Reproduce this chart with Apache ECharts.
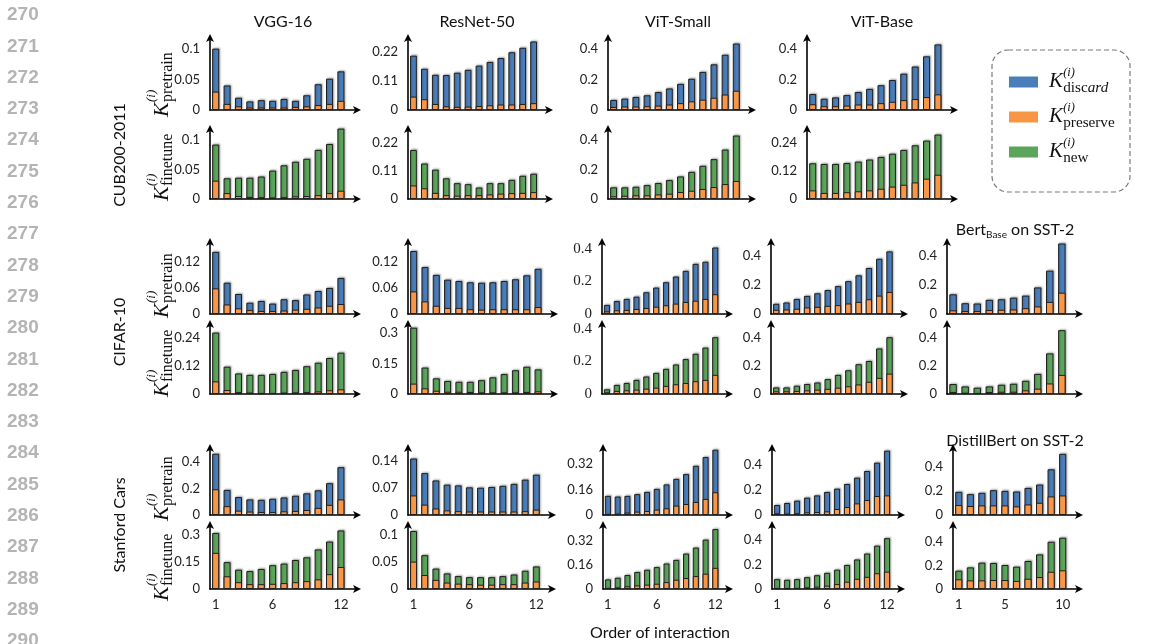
<!DOCTYPE html>
<html><head><meta charset="utf-8">
<script src="https://cdn.jsdelivr.net/npm/echarts@6/dist/echarts.min.js"></script>
<style>html,body{margin:0;padding:0;background:#fff}#c{width:1150px;height:644px}</style>
</head><body><div id="c"></div>
<script>
// ---------- tick labels / categories ----------
const xLabels12 = ['1','2','3','4','5','6','7','8','9','10','11','12',''];
const xLabels10 = ['1','2','3','4','5','6','7','8','9','10',''];
const xShown12 = ['1','6','12'];
const xShown10 = ['1','5','10'];
const colTitles = ['VGG-16','ResNet-50','ViT-Small','ViT-Base'];
const datasetNames = ['CUB200-2011','CIFAR-10','Stanford Cars'];
const lineNumbers = ['270','271','272','273','274','275','276','277','278','279','280','281','282','283','284','285','286','287','288','289','290'];

const ticks_r1 = [[0,0.05,0.1],[0,0.11,0.22],[0,0.2,0.4],[0,0.2,0.4]];
const ticks_r2 = [[0,0.05,0.1],[0,0.11,0.22],[0,0.2,0.4],[0,0.12,0.24]];
const ticks_r3 = [[0,0.06,0.12],[0,0.06,0.12],[0,0.2,0.4],[0,0.2,0.4],[0,0.2,0.4]];
const ticks_r4 = [[0,0.12,0.24],[0,0.15,0.3],[0,0.2,0.4],[0,0.2,0.4],[0,0.2,0.4]];
const ticks_r5 = [[0,0.2,0.4],[0,0.07,0.14],[0,0.16,0.32],[0,0.2,0.4],[0,0.2,0.4]];
const ticks_r6 = [[0,0.15,0.3],[0,0.05,0.1],[0,0.16,0.32],[0,0.2,0.4],[0,0.2,0.4]];

// ---------- data: total bar height (K_discard or K_new stacked on K_preserve) and K_preserve ----------
// CUB200-2011
const cub_vgg_pre_total = [0.100,0.040,0.020,0.014,0.016,0.015,0.018,0.015,0.024,0.042,0.051,0.063];
const cub_vgg_pre_keep  = [0.030,0.010,0.006,0.004,0.004,0.004,0.004,0.005,0.006,0.008,0.010,0.015];
const cub_vgg_ft_total  = [0.092,0.035,0.036,0.036,0.038,0.048,0.057,0.063,0.068,0.083,0.093,0.119];
const cub_vgg_ft_keep   = [0.031,0.010,0.005,0.0035,0.003,0.0025,0.003,0.0045,0.005,0.0065,0.010,0.014];
const cub_res_pre_total = [0.207,0.157,0.134,0.133,0.142,0.153,0.169,0.183,0.198,0.220,0.237,0.261];
const cub_res_pre_keep  = [0.051,0.041,0.023,0.014,0.012,0.013,0.015,0.018,0.021,0.021,0.023,0.026];
const cub_res_ft_total  = [0.192,0.139,0.115,0.081,0.062,0.058,0.045,0.062,0.062,0.075,0.091,0.099];
const cub_res_ft_keep   = [0.053,0.042,0.024,0.015,0.013,0.015,0.015,0.018,0.021,0.023,0.024,0.027];
const cub_vits_pre_total= [0.066,0.075,0.086,0.097,0.118,0.142,0.172,0.206,0.251,0.301,0.364,0.438];
const cub_vits_pre_keep = [0.020,0.023,0.023,0.025,0.029,0.036,0.045,0.057,0.068,0.081,0.102,0.127];
const cub_vits_ft_total = [0.079,0.079,0.083,0.094,0.108,0.128,0.153,0.184,0.225,0.270,0.335,0.430];
const cub_vits_ft_keep  = [0.018,0.022,0.025,0.025,0.031,0.036,0.047,0.056,0.068,0.081,0.101,0.122];
const cub_vitb_pre_total= [0.105,0.074,0.083,0.098,0.118,0.139,0.163,0.197,0.239,0.286,0.353,0.431];
const cub_vitb_pre_keep = [0.038,0.025,0.025,0.029,0.036,0.036,0.045,0.054,0.065,0.072,0.085,0.103];
const cub_vitb_ft_total = [0.153,0.150,0.150,0.154,0.160,0.169,0.180,0.194,0.210,0.230,0.250,0.276];
const cub_vitb_ft_keep  = [0.037,0.026,0.026,0.029,0.033,0.037,0.044,0.053,0.061,0.071,0.087,0.104];
// CIFAR-10
const cifar_vgg_pre_total = [0.143,0.072,0.046,0.026,0.030,0.024,0.034,0.032,0.045,0.053,0.060,0.083];
const cifar_vgg_pre_keep  = [0.059,0.022,0.013,0.009,0.007,0.007,0.008,0.010,0.012,0.015,0.019,0.023];
const cifar_vgg_ft_total  = [0.263,0.117,0.088,0.082,0.082,0.086,0.095,0.103,0.119,0.134,0.154,0.177];
const cifar_vgg_ft_keep   = [0.054,0.017,0.008,0.006,0.004,0.004,0.006,0.007,0.008,0.011,0.016,0.020];
const cifar_res_pre_total = [0.145,0.108,0.090,0.079,0.076,0.073,0.072,0.073,0.076,0.080,0.089,0.104];
const cifar_res_pre_keep  = [0.052,0.029,0.019,0.014,0.014,0.011,0.010,0.011,0.011,0.011,0.011,0.016];
const cifar_res_ft_total  = [0.326,0.130,0.077,0.064,0.060,0.060,0.068,0.082,0.098,0.117,0.134,0.121];
const cifar_res_ft_keep   = [0.051,0.028,0.016,0.011,0.011,0.010,0.008,0.008,0.008,0.008,0.010,0.013];
const cifar_vits_pre_total= [0.056,0.080,0.093,0.107,0.134,0.163,0.196,0.231,0.266,0.309,0.322,0.410];
const cifar_vits_pre_keep = [0.016,0.023,0.025,0.031,0.037,0.045,0.054,0.064,0.074,0.082,0.093,0.122];
const cifar_vits_ft_total = [0.029,0.056,0.068,0.087,0.108,0.130,0.155,0.182,0.215,0.248,0.286,0.350];
const cifar_vits_ft_keep  = [0.010,0.019,0.023,0.027,0.033,0.039,0.050,0.060,0.068,0.079,0.087,0.118];
const cifar_vitb_pre_total= [0.070,0.079,0.103,0.124,0.142,0.164,0.191,0.225,0.265,0.315,0.378,0.429];
const cifar_vitb_pre_keep = [0.029,0.031,0.036,0.045,0.049,0.056,0.061,0.072,0.083,0.101,0.126,0.151];
const cifar_vitb_ft_total = [0.047,0.047,0.059,0.071,0.082,0.106,0.136,0.169,0.212,0.235,0.324,0.404];
const cifar_vitb_ft_keep  = [0.019,0.019,0.022,0.026,0.031,0.037,0.045,0.055,0.068,0.087,0.115,0.145];
const cifar_bert_pre_total= [0.135,0.074,0.072,0.097,0.101,0.112,0.126,0.182,0.297,0.483];
const cifar_bert_pre_keep = [0.025,0.020,0.020,0.027,0.029,0.031,0.040,0.052,0.083,0.146];
const cifar_bert_ft_total = [0.071,0.054,0.045,0.054,0.066,0.073,0.094,0.143,0.289,0.454];
const cifar_bert_ft_keep  = [0.014,0.009,0.007,0.014,0.016,0.016,0.026,0.038,0.075,0.136];
// Stanford Cars
const cars_vgg_pre_total = [0.464,0.190,0.136,0.118,0.115,0.123,0.133,0.146,0.164,0.187,0.241,0.362];
const cars_vgg_pre_keep  = [0.195,0.067,0.033,0.026,0.023,0.023,0.028,0.031,0.038,0.054,0.077,0.118];
const cars_vgg_ft_total  = [0.313,0.150,0.108,0.100,0.112,0.133,0.142,0.162,0.177,0.221,0.265,0.327];
const cars_vgg_ft_keep   = [0.202,0.071,0.038,0.027,0.027,0.029,0.033,0.038,0.044,0.054,0.083,0.123];
const cars_res_pre_total = [0.147,0.109,0.090,0.079,0.077,0.072,0.071,0.073,0.076,0.081,0.092,0.105];
const cars_res_pre_keep  = [0.051,0.027,0.017,0.012,0.010,0.009,0.009,0.009,0.009,0.009,0.010,0.014];
const cars_res_ft_total  = [0.108,0.063,0.038,0.029,0.024,0.022,0.022,0.022,0.024,0.027,0.034,0.042];
const cars_res_ft_keep   = [0.051,0.026,0.017,0.012,0.010,0.009,0.008,0.008,0.009,0.009,0.012,0.014];
const cars_vits_pre_total= [0.120,0.116,0.120,0.131,0.145,0.164,0.192,0.227,0.257,0.309,0.364,0.410];
const cars_vits_pre_keep = [0.004,0.008,0.015,0.021,0.025,0.034,0.042,0.059,0.069,0.082,0.101,0.143];
const cars_vits_ft_total = [0.064,0.075,0.093,0.113,0.128,0.146,0.170,0.194,0.236,0.276,0.329,0.399];
const cars_vits_ft_keep  = [0.007,0.011,0.018,0.024,0.029,0.035,0.046,0.062,0.073,0.086,0.102,0.141];
const cars_vitb_pre_total= [0.080,0.096,0.115,0.139,0.157,0.184,0.211,0.248,0.299,0.352,0.419,0.515];
const cars_vitb_pre_keep = [0.013,0.011,0.013,0.021,0.024,0.029,0.048,0.064,0.093,0.120,0.152,0.157];
const cars_vitb_ft_total = [0.080,0.075,0.080,0.096,0.112,0.131,0.157,0.195,0.240,0.288,0.352,0.413];
const cars_vitb_ft_keep  = [0.008,0.005,0.008,0.013,0.019,0.027,0.040,0.059,0.083,0.099,0.128,0.141];
const cars_dbert_pre_total=[0.193,0.174,0.185,0.207,0.201,0.196,0.226,0.254,0.381,0.510];
const cars_dbert_pre_keep =[0.083,0.075,0.080,0.080,0.080,0.072,0.088,0.102,0.155,0.163];
const cars_dbert_ft_total =[0.155,0.183,0.223,0.220,0.203,0.189,0.237,0.293,0.400,0.434];
const cars_dbert_ft_keep  =[0.082,0.073,0.073,0.076,0.076,0.068,0.087,0.101,0.146,0.158];

// ---------- panel list (data references) ----------
const panelData = [
  [[cub_vgg_pre_total,cub_vgg_pre_keep],[cub_res_pre_total,cub_res_pre_keep],[cub_vits_pre_total,cub_vits_pre_keep],[cub_vitb_pre_total,cub_vitb_pre_keep]],
  [[cub_vgg_ft_total,cub_vgg_ft_keep],[cub_res_ft_total,cub_res_ft_keep],[cub_vits_ft_total,cub_vits_ft_keep],[cub_vitb_ft_total,cub_vitb_ft_keep]],
  [[cifar_vgg_pre_total,cifar_vgg_pre_keep],[cifar_res_pre_total,cifar_res_pre_keep],[cifar_vits_pre_total,cifar_vits_pre_keep],[cifar_vitb_pre_total,cifar_vitb_pre_keep],[cifar_bert_pre_total,cifar_bert_pre_keep]],
  [[cifar_vgg_ft_total,cifar_vgg_ft_keep],[cifar_res_ft_total,cifar_res_ft_keep],[cifar_vits_ft_total,cifar_vits_ft_keep],[cifar_vitb_ft_total,cifar_vitb_ft_keep],[cifar_bert_ft_total,cifar_bert_ft_keep]],
  [[cars_vgg_pre_total,cars_vgg_pre_keep],[cars_res_pre_total,cars_res_pre_keep],[cars_vits_pre_total,cars_vits_pre_keep],[cars_vitb_pre_total,cars_vitb_pre_keep],[cars_dbert_pre_total,cars_dbert_pre_keep]],
  [[cars_vgg_ft_total,cars_vgg_ft_keep],[cars_res_ft_total,cars_res_ft_keep],[cars_vits_ft_total,cars_vits_ft_keep],[cars_vitb_ft_total,cars_vitb_ft_keep],[cars_dbert_ft_total,cars_dbert_ft_keep]]
];
const panelTicks = [ticks_r1,ticks_r2,ticks_r3,ticks_r4,ticks_r5,ticks_r6];
const rowKind = ['pretrain','finetune','pretrain','finetune','pretrain','finetune'];

// ---------- layout / scale (positions, not data) ----------
const rowTop  = [37,128,241,323,447,524];
const rowBase = [110,199,314,394,515,589];
const colSpans = [
  [[210,358],[408,550],[608,753],[807,955]],
  [[210,358],[408,555],[602,730],[771,905],[947,1080]],
  [[210,358],[408,553],[603,730],[772,902],[953,1080]]
];
const yMaxes = [
  [0.119,0.278,0.481,0.48],
  [0.12,0.278,0.481,0.304],
  [0.168,0.168,0.45,0.50,0.50],
  [0.304,0.349,0.4375,0.505,0.505],
  [0.515,0.177,0.427,0.544,0.567],
  [0.363,0.121,0.433,0.528,0.55]
];
const C_DISCARD = '#4a7ebb', C_PRESERVE = '#f79646', C_NEW = '#5ba65a';
const SANS = 'Lato, "Open Sans", sans-serif';
const SERIF = '"Liberation Serif", "DejaVu Serif", serif';

const grids=[], xAxes=[], yAxes=[], series=[];
let gi = 0;
panelData.forEach((row, r) => {
  const spans = colSpans[r < 2 ? 0 : (r < 4 ? 1 : 2)];
  row.forEach((pd, c) => {
    const [x0, x1] = spans[c];
    const is10 = pd[0].length === 10;
    const ticks = panelTicks[r][c];
    grids.push({left:x0, top:rowTop[r], width:x1-x0, height:rowBase[r]-rowTop[r], containLabel:false});
    const axisLine = {show:true, symbol:['none','arrow'], symbolSize:[6,8], symbolOffset:[0,3],
                      lineStyle:{color:'#000', width:1.6}};
    const shown = is10 ? xShown10 : xShown12;
    xAxes.push({type:'category', gridIndex:gi, data: is10 ? xLabels10 : xLabels12,
      axisLine, axisTick:{show:false},
      axisLabel:{show: r === 5, interval:(i, v) => shown.includes(v), fontSize:13, margin:9,
                 color:'#222', fontFamily:SANS}});
    const serifTicks = (r === 2 || r === 3) && c === 2;
    yAxes.push({type:'value', gridIndex:gi, min:0, max:yMaxes[r][c],
      splitLine:{show:false}, axisLine, axisTick:{show:false},
      axisLabel:{customValues:ticks, fontSize: serifTicks ? 15 : 13, margin:10, color:'#222',
                 fontFamily: serifTicks ? SERIF : SANS,
                 formatter:(v) => ticks.some(t => Math.abs(t - v) < 1e-9) ? String(v) : ''}});
    const topColor = rowKind[r] === 'pretrain' ? C_DISCARD : C_NEW;
    series.push({type:'bar', xAxisIndex:gi, yAxisIndex:gi, data:pd[0], barWidth:'62%', barGap:'-100%',
      silent:true, itemStyle:{color:topColor, borderColor:'#1e1e1e', borderWidth:1,
        shadowColor:'rgba(0,0,0,0.28)', shadowBlur:2, shadowOffsetX:1, shadowOffsetY:-1}});
    series.push({type:'bar', xAxisIndex:gi, yAxisIndex:gi, data:pd[1], barWidth:'62%', barGap:'-100%',
      silent:true, itemStyle:{color:C_PRESERVE, borderColor:'#1e1e1e', borderWidth:1}});
    gi++;
  });
});

// ---------- text decorations ----------
const graphic = [];
lineNumbers.forEach((t, i) => {
  graphic.push({type:'text', x:7, y:15 + i*31.3, style:{text:t, fill:'#b4b4b4', fontSize:19, fontWeight:'bold',
    fontFamily:'"Liberation Sans", Arial, sans-serif', verticalAlign:'middle', textVerticalAlign:'middle'}});
});
const titleX = [283,477,678,882];
colTitles.forEach((t, i) => graphic.push({type:'text', x:titleX[i], y:22, style:{text:t, fill:'#111', fontSize:16,
  fontFamily:SANS, align:'center', textAlign:'center', verticalAlign:'middle', textVerticalAlign:'middle'}}));
const richTitle = (txt, x, y) => ({type:'text', x, y, style:{text:txt, align:'center', textAlign:'center',
  verticalAlign:'middle', textVerticalAlign:'middle',
  rich:{n:{fontSize:16, fontFamily:SANS, fill:'#111', color:'#111', lineHeight:20},
        s:{fontSize:10, fontFamily:SANS, fill:'#111', color:'#111', lineHeight:8, verticalAlign:'bottom'}}}});
graphic.push(richTitle('{n|Bert}{s|Base}{n| on SST-2}', 1015, 230));
graphic.push(richTitle('{n|DistillBert on SST-2}', 1015, 441));
graphic.push({type:'text', x:660, y:633, style:{text:'Order of interaction', fill:'#111', fontSize:16, fontFamily:SANS,
  align:'center', textAlign:'center', verticalAlign:'middle', textVerticalAlign:'middle'}});
const dsY = [155,332,525];
datasetNames.forEach((t, i) => graphic.push({type:'text', x:120, y:dsY[i], rotation:Math.PI/2,
  style:{text:t, fill:'#111', fontSize:16, fontFamily:SANS, align:'center', textAlign:'center',
         verticalAlign:'middle', textVerticalAlign:'middle'}}));

function kSymbol(sub, subRich, s) {
  return [
    {type:'text', x:0, y:0, style:{text:'K', fill:'#111', fontSize:22*s, fontStyle:'italic', fontFamily:SERIF,
      verticalAlign:'middle', textVerticalAlign:'middle'}},
    {type:'text', x:15*s, y:-10*s, style:{text:'(i)', fill:'#111', fontSize:13*s, fontStyle:'italic', fontFamily:SERIF,
      verticalAlign:'middle', textVerticalAlign:'middle'}},
    {type:'text', x:15*s, y:6*s, style: subRich ? {text:subRich, verticalAlign:'middle', textVerticalAlign:'middle',
      rich:{r:{fontSize:16*s, fontFamily:SERIF, fill:'#111', color:'#111'},
            i:{fontSize:16*s, fontFamily:SERIF, fontStyle:'italic', fill:'#111', color:'#111'}}}
      : {text:sub, fill:'#111', fontSize:16*s, fontFamily:SERIF, verticalAlign:'middle', textVerticalAlign:'middle'}}
  ];
}
const kY = [117,201,318,397,521,601];
rowKind.forEach((k, r) => graphic.push({type:'group', x:162, y:kY[r], rotation:Math.PI/2, children:kSymbol(k, null, 1)}));

// legend (drawn as decoration because of the math labels)
graphic.push({type:'rect', shape:{x:992, y:50, width:138, height:142, r:16},
  style:{fill:'none', stroke:'#7a7a7a', lineWidth:1.2, lineDash:[5,3]}});
const legendItems = [[C_DISCARD,null,'{r|disc}{i|ard}'],[C_PRESERVE,'preserve',null],[C_NEW,'new',null]];
const legY = [82,117,152];
legendItems.forEach((it, i) => {
  graphic.push({type:'rect', shape:{x:1009, y:legY[i]-5.5, width:29, height:11}, style:{fill:it[0]}});
  graphic.push({type:'group', x:1049, y:legY[i], children:kSymbol(it[1], it[2], 0.95)});
});

const chart = echarts.init(document.getElementById('c'), null, {renderer:'canvas', width:1150, height:644});
chart.setOption({backgroundColor:'#fff', animation:false, grid:grids, xAxis:xAxes, yAxis:yAxes, series, graphic});
</script></body></html>
